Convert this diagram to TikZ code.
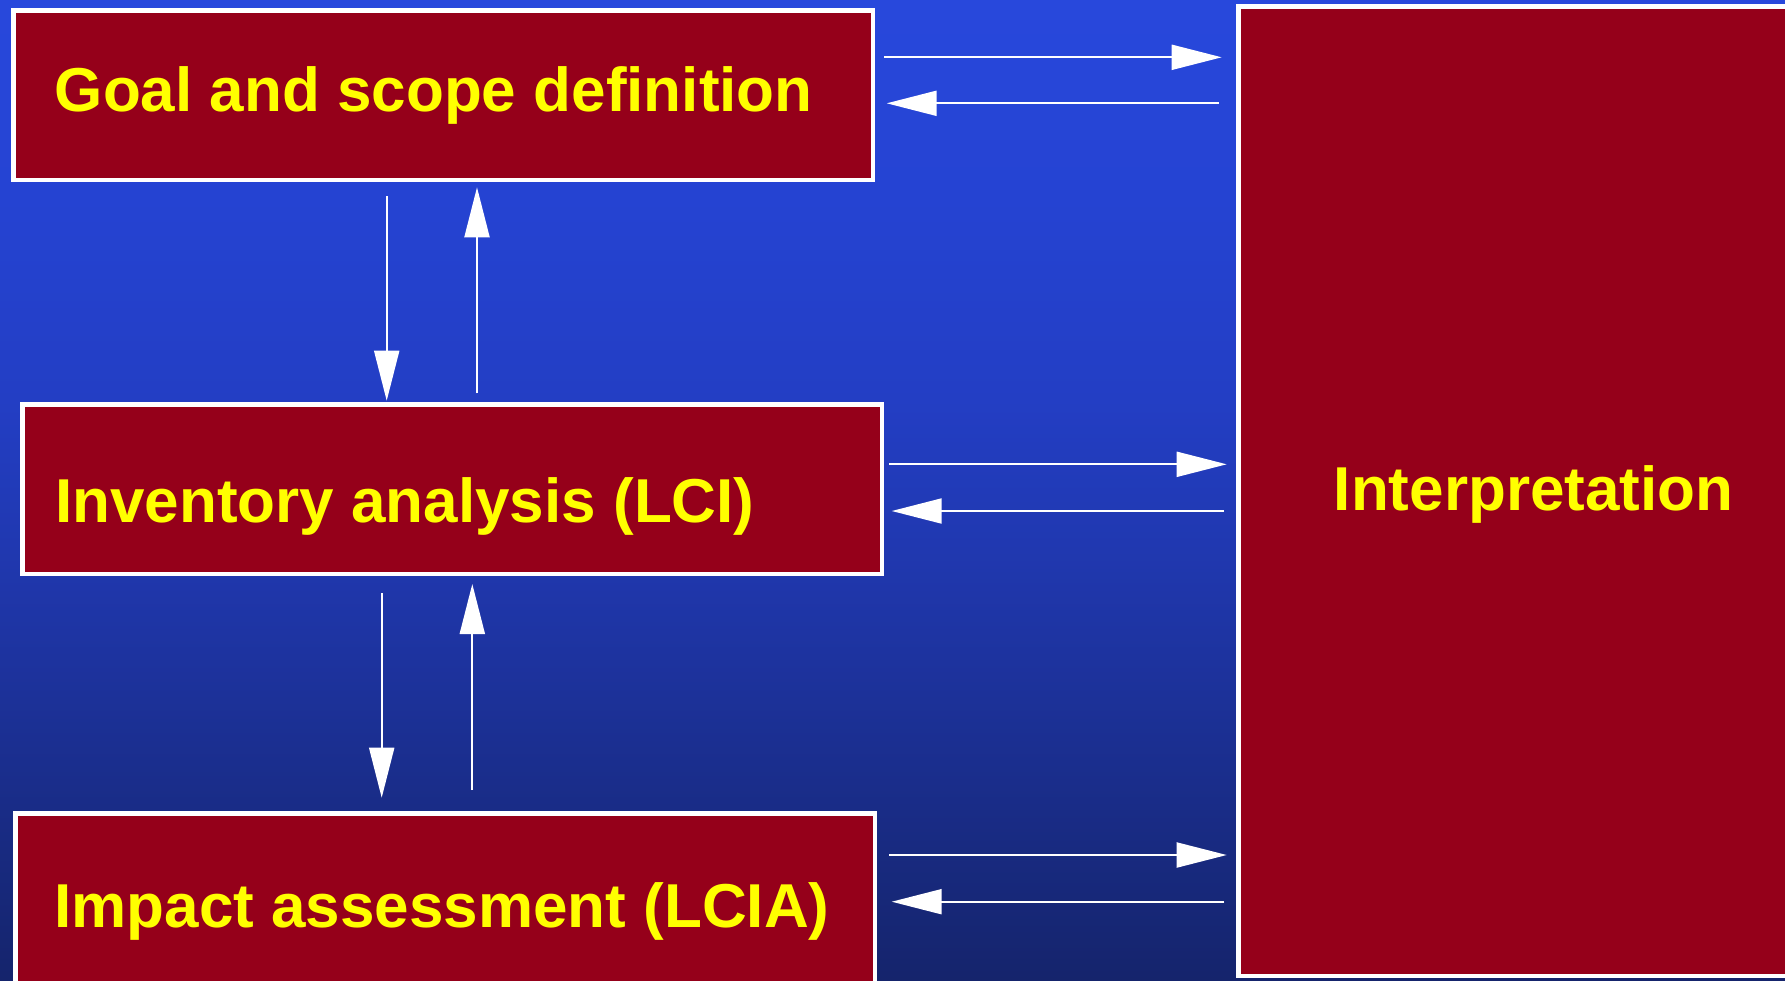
\documentclass[tikz,border=0pt]{standalone}
\usepackage{fontspec}
\setmainfont{Liberation Sans}
\usetikzlibrary{arrows.meta,calc}

% background colours, bottom to top
\definecolor{bgA}{RGB}{21,36,108}
\definecolor{bgB}{RGB}{24,42,128}
\definecolor{bgC}{RGB}{28,49,152}
\definecolor{bgD}{RGB}{32,56,176}
\definecolor{bgE}{RGB}{35,62,196}
\definecolor{bgF}{RGB}{37,67,210}
\definecolor{bgG}{RGB}{40,72,220}
\definecolor{boxred}{RGB}{149,0,26}
\definecolor{labelyellow}{RGB}{255,255,0}

\pgfdeclareverticalshading{skyfade}{100bp}{%
  color(0bp)=(bgA); color(25bp)=(bgA); color(31.63bp)=(bgB);
  color(39.29bp)=(bgC); color(46.94bp)=(bgD); color(54.59bp)=(bgE);
  color(64.8bp)=(bgF); color(75bp)=(bgG); color(100bp)=(bgG)}

\tikzset{
  stage/.style={draw=white, line width=4.5pt, fill=boxred, rectangle,
    inner sep=0pt, outer sep=2.25pt, anchor=north west,
    minimum width=859.5pt, minimum height=169.5pt},
  stagetext/.style={text=labelyellow, inner sep=0pt, anchor=base west,
    font=\bfseries\fontsize{62}{74}\selectfont},
  arr/.style={draw=white, line width=2pt,
    -{Triangle[length=50pt,width=25pt]}},
}

\begin{document}
\begin{tikzpicture}[x=1pt,y=-1pt]
  \useasboundingbox (0,0) rectangle (1785,980);
  \clip (0,0) rectangle (1785,980);
  \shade[shading=skyfade] (0,0) rectangle (1785,980);

  % the four phases
  \node[stage] (goal) at (11,8) {};
  \node[stage] (inv) at (20,402) {};
  \node[stage] (imp) at (13,811) {};
  \node[stage, minimum width=554.5pt, minimum height=969.5pt] (interp) at (1236,4) {};

  \node[stagetext] (goaltext) at (54.6,111) {Goal and scope definition};
  \node[stagetext] (invtext) at (55,522.3) {Inventory analysis (LCI)};
  \node[stagetext] (imptext) at (54.2,927.7) {Impact assessment (LCIA)};
  \node[stagetext] (interptext) at (1333.6,510) {Interpretation};

  % links to interpretation
  \draw[arr, shorten <=9pt, shorten >=14.3pt] (goal.east |- 0,57.3) -- (interp.west |- 0,57.3);
  \draw[arr, shorten <=17pt, shorten >=11.7pt] (interp.west |- 0,103.3) -- (goal.east |- 0,103.3);
  \draw[arr, shorten <=5pt, shorten >=9.3pt] (inv.east |- 0,464.3) -- (interp.west |- 0,464.3);
  \draw[arr, shorten <=12pt, shorten >=7.7pt] (interp.west |- 0,511) -- (inv.east |- 0,511);
  \draw[arr, shorten <=12.3pt, shorten >=9.3pt] (imp.east |- 0,855) -- (interp.west |- 0,855);
  \draw[arr, shorten <=11.7pt, shorten >=14.7pt] (interp.west |- 0,901.7) -- (imp.east |- 0,901.7);

  % links between the stacked phases
  \draw[arr, shorten <=14pt, shorten >=1.3pt] (goal.south -| 386.7,0) -- (inv.north -| 386.7,0);
  \draw[arr, shorten <=8.7pt, shorten >=5.3pt] (inv.north -| 477,0) -- (goal.south -| 477,0);
  \draw[arr, shorten <=17.3pt, shorten >=13.3pt] (inv.south -| 381.7,0) -- (imp.north -| 381.7,0);
  \draw[arr, shorten <=21pt, shorten >=8pt] (imp.north -| 472.3,0) -- (inv.south -| 472.3,0);
\end{tikzpicture}
\end{document}
